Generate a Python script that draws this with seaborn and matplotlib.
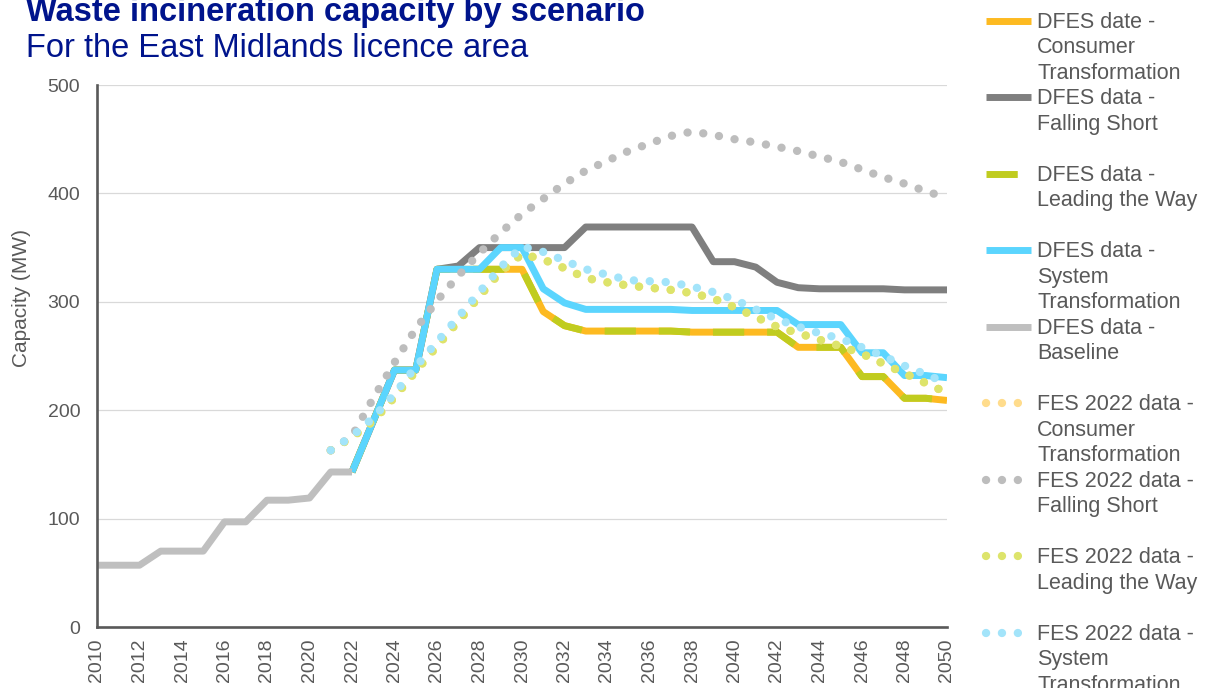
"""
Waste incineration capacity by scenario - East Midlands licence area.
"""

import numpy as np
import matplotlib
matplotlib.use("Agg")
import matplotlib.pyplot as plt
import seaborn as sns
from matplotlib.legend_handler import HandlerLine2D

# ---- data (MW) ----
years_hist = list(range(2010, 2023))
years_dfes = list(range(2022, 2051))
years_fes = list(range(2021, 2051))

baseline = [57, 57, 57, 70, 70, 70, 97, 97, 117, 117, 119, 143, 143]

dfes_consumer = [143, 190, 237, 237, 330, 330, 330, 330, 330, 291, 278, 273, 273, 273,
                 273, 273, 272, 272, 272, 272, 272, 258, 258, 258, 231, 231, 211, 211, 209]
dfes_falling = [143, 190, 237, 237, 330, 333, 350, 350, 350, 350, 350, 369, 369, 369,
                369, 369, 369, 337, 337, 332, 318, 313, 312, 312, 312, 312, 311, 311, 311]
dfes_leading = [143, 190, 237, 237, 330, 330, 330, 330, 330, 291, 278, 273, 273, 273,
                273, 273, 272, 272, 272, 272, 272, 258, 258, 258, 231, 231, 211, 211, 209]
dfes_system = [143, 190, 237, 237, 330, 330, 330, 350, 350, 312, 299, 293, 293, 293,
               293, 293, 292, 292, 292, 292, 292, 279, 279, 279, 253, 253, 232, 232, 230]

fes_consumer = [163, 175, 190, 212, 236, 259, 282, 305, 328, 344, 339, 331, 322, 318, 315,
                313, 311, 308, 303, 295, 286, 277, 271, 265, 259, 252, 243, 234, 225, 216]
fes_falling = [163, 176, 211, 244, 275, 301, 324, 345, 364, 381, 395, 409, 421, 430, 439,
               446, 453, 457, 454, 450, 447, 443, 439, 434, 429, 422, 415, 409, 402, 396]
fes_leading = [163, 175, 190, 212, 236, 259, 282, 305, 328, 344, 339, 331, 322, 318, 315,
               313, 311, 308, 303, 295, 286, 277, 271, 265, 259, 252, 243, 234, 225, 216]
fes_system = [163, 176, 193, 215, 240, 263, 286, 309, 332, 351, 346, 338, 330, 325, 320,
              319, 318, 314, 309, 302, 293, 284, 277, 271, 266, 258, 250, 241, 233, 225]

labels = [
    "DFES date -\nConsumer\nTransformation",
    "DFES data -\nFalling Short\n",
    "DFES data -\nLeading the Way\n",
    "DFES data -\nSystem\nTransformation",
    "DFES data -\nBaseline\n",
    "FES 2022 data -\nConsumer\nTransformation",
    "FES 2022 data -\nFalling Short\n",
    "FES 2022 data -\nLeading the Way\n",
    "FES 2022 data -\nSystem\nTransformation",
]

SOLID = "-"
DASH = (0, (4.5, 3.3))
DOT = (0, (0.01, 1.9))

series = [
    (years_dfes, dfes_consumer, "#FDBA21", SOLID),
    (years_dfes, dfes_falling, "#7F7F7F", SOLID),
    (years_dfes, dfes_leading, "#C0CC1F", DASH),
    (years_dfes, dfes_system, "#5BD5FE", SOLID),
    (years_hist, baseline, "#BFBFBF", SOLID),
    (years_fes, fes_consumer, "#FFDC8C", DOT),
    (years_fes, fes_falling, "#BDBDBD", DOT),
    (years_fes, fes_leading, "#DDE46B", DOT),
    (years_fes, fes_system, "#A3E4FA", DOT),
]


class FirstLineHandler(HandlerLine2D):
    """Put the legend key next to the first line of a multi-line label."""

    def create_artists(self, legend, orig_handle, xdescent, ydescent,
                       width, height, fontsize, trans):
        artists = super().create_artists(legend, orig_handle, xdescent, ydescent,
                                         width, height, fontsize, trans)
        for a in artists:
            a.set_ydata(np.asarray(a.get_ydata()) + 1.29 * fontsize)
        return artists


sns.set_style("white")
plt.rcParams["font.family"] = ["Liberation Sans", "DejaVu Sans"]

fig = plt.figure(figsize=(12.06, 6.88), dpi=100)
ax = fig.add_axes([97 / 1206, 1 - 627 / 688, 850 / 1206, 542 / 688])

handles = []
for yrs, vals, col, ls in series:
    sns.lineplot(x=yrs, y=vals, ax=ax, color=col,
                 linewidth=6 if ls is DOT else 5, linestyle=ls,
                 solid_capstyle="butt", solid_joinstyle="round",
                 dash_capstyle="round" if ls is DOT else "butt",
                 dash_joinstyle="round", legend=False)
    handles.append(ax.lines[-1])

ax.set_xlim(2010, 2050)
ax.set_ylim(0, 500)
ax.set_xticks(range(2010, 2051, 2))
ax.set_yticks(range(0, 501, 100))
ax.tick_params(axis="x", length=0, pad=8, labelsize=14, labelcolor="#595959", labelrotation=90)
ax.tick_params(axis="y", length=0, pad=12, labelsize=14, labelcolor="#595959")
ax.yaxis.grid(True, color="#D9D9D9", linewidth=0.9)
ax.set_axisbelow(True)
for side in ["top", "right"]:
    ax.spines[side].set_visible(False)
for side in ["left", "bottom"]:
    ax.spines[side].set_color("#595959")
    ax.spines[side].set_linewidth(1.9)

ax.set_xlabel("")
ax.set_ylabel("Capacity (MW)", fontsize=15, color="#595959")
ax.yaxis.set_label_coords(-0.078, 0.607)

fig.text(26 / 1206, 1 - 21 / 688, "Waste incineration capacity by scenario",
         fontsize=23.5, fontweight="bold", color="#00148C", va="baseline")
fig.text(26 / 1206, 1 - 57 / 688, "For the East Midlands licence area",
         fontsize=23.5, color="#00148C", va="baseline")

leg = ax.legend(handles, labels, loc="upper left", bbox_to_anchor=(986 / 1206, 1 - 12 / 688),
                bbox_transform=fig.transFigure, frameon=False, fontsize=15.5,
                labelcolor="#595959", handlelength=2.09, handletextpad=0.28,
                labelspacing=0.21, borderpad=0, borderaxespad=0,
                handler_map={matplotlib.lines.Line2D: FirstLineHandler()})
for t in leg.get_texts():
    t.set_linespacing(1.28)

plt.savefig("out.png", dpi=100)
plt.close()
